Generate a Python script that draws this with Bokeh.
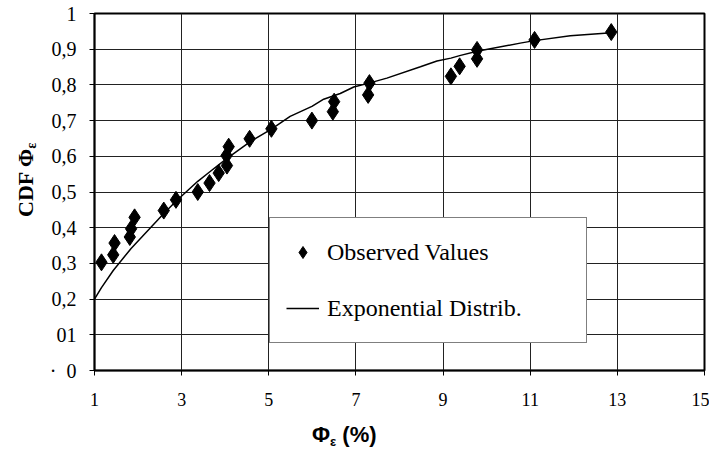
from bokeh.plotting import figure
from bokeh.models import Legend, LegendItem, FixedTicker, Range1d, Div
from bokeh.layouts import row, column
from bokeh.embed import file_html
from bokeh.resources import INLINE

# Observed values (Phi_eps %, CDF)
obs_x = [1.16, 1.43, 1.46, 1.81, 1.84, 1.92, 2.59, 2.87, 3.37, 3.64, 3.85, 4.04, 4.03,
         4.08, 4.56, 5.06, 5.99, 6.47, 6.50, 7.28, 7.31, 9.18, 9.38, 9.78, 9.78, 11.1, 12.86]
obs_y = [0.303, 0.324, 0.357, 0.374, 0.397, 0.429, 0.448, 0.478, 0.500, 0.525, 0.553, 0.574, 0.602,
         0.627, 0.649, 0.677, 0.700, 0.725, 0.753, 0.772, 0.805, 0.824, 0.852, 0.873, 0.898, 0.926, 0.948]

# Fitted exponential distribution
fit_x = [1.0, 1.16, 1.43, 1.84, 2.59, 2.87, 3.37, 3.64, 3.85, 4.05, 4.56, 5.06, 5.49,
         5.99, 6.26, 6.64, 6.95, 7.30, 7.71, 8.48, 8.86, 9.18, 9.38, 9.78, 10.77, 11.1, 11.92, 12.87]
fit_y = [0.200, 0.232, 0.280, 0.342, 0.440, 0.474, 0.530, 0.556, 0.576, 0.595, 0.640, 0.676, 0.712,
         0.740, 0.760, 0.776, 0.794, 0.805, 0.819, 0.851, 0.867, 0.875, 0.882, 0.894, 0.917, 0.924, 0.938, 0.946]

x_ticks = [1, 3, 5, 7, 9, 11, 13, 15]
y_ticks = [0, 0.1, 0.2, 0.3, 0.4, 0.5, 0.6, 0.7, 0.8, 0.9, 1]
y_tick_labels = ["\u00b7\u00a0\u00a00", "01", "0,2", "0,3", "0,4", "0,5", "0,6", "0,7", "0,8", "0,9", "1"]

x_title_main, x_title_sub, x_title_tail = "\u03a6", "\u03b5", " (%)"
y_title_main, y_title_sub = "CDF \u03a6", "\u03b5"

SERIF = "Liberation Serif"
SANS = "Liberation Sans"

W, H = 709, 451
YDIV_W = 44          # strip at the left holding the y title
P_H = 415            # figure height; the x title strip sits below it
L, R, T = 94, 5, 13  # frame edges in page pixels
FRAME_BOTTOM = 370
X0, X1, Y0, Y1 = 1, 15, 0, 1

p = figure(width=W - YDIV_W, height=P_H, x_range=Range1d(X0, X1), y_range=Range1d(Y0, Y1),
           output_backend="svg", toolbar_location=None,
           min_border_left=L - YDIV_W, min_border_right=R, min_border_top=T,
           min_border_bottom=P_H - FRAME_BOTTOM)
p.margin = 0
p.background_fill_color = "white"
p.border_fill_color = "white"
p.outline_line_color = "black"
p.outline_line_width = 2

p.xaxis.ticker = FixedTicker(ticks=x_ticks)
p.yaxis.ticker = FixedTicker(ticks=y_ticks)
p.xgrid.ticker = FixedTicker(ticks=x_ticks)
p.ygrid.ticker = FixedTicker(ticks=y_ticks)
p.yaxis.major_label_overrides = {t: lab for t, lab in zip(y_ticks, y_tick_labels)}
p.xaxis.major_label_overrides = {t: str(t) for t in x_ticks}

for ax in (p.xaxis, p.yaxis):
    ax.axis_line_color = "black"
    ax.axis_line_width = 1.5
    ax.major_tick_line_color = "black"
    ax.major_tick_out = 5
    ax.major_tick_in = 0
    ax.minor_tick_line_color = None
    ax.major_label_text_color = "black"
    ax.major_label_text_font = SERIF
p.xaxis.major_label_text_font_size = "18px"
p.yaxis.major_label_text_font_size = "20px"
p.xaxis.major_label_standoff = 17
p.yaxis.major_label_standoff = 13

for g in (p.xgrid, p.ygrid):
    g.grid_line_color = "#222222"
    g.grid_line_width = 1
    g.grid_line_alpha = 1

r_fit = p.line(fit_x, fit_y, line_color="black", line_width=1.5)
r_obs = p.scatter(obs_x, obs_y, marker="diamond", size=17, color="black")

legend = Legend(items=[LegendItem(label="Observed Values", renderers=[r_obs]),
                       LegendItem(label="Exponential Distrib.", renderers=[r_fit])],
                location=(175, 27))
legend.border_line_color = "black"
legend.border_line_width = 1.5
legend.background_fill_color = "white"
legend.background_fill_alpha = 1
legend.label_text_font = SERIF
legend.label_text_font_size = "24px"
legend.label_text_color = "black"
legend.glyph_width = 33
legend.glyph_height = 30
legend.label_height = 36
legend.label_width = 243
legend.label_standoff = 8
legend.padding = 16
legend.spacing = 20
legend.margin = 0
p.add_layout(legend)

# y axis title (rotated), drawn in a strip left of the figure
y_html = (
    '<div style="position:absolute; left:15px; top:217px; transform:rotate(-90deg); '
    'transform-origin:left top; white-space:nowrap; color:black; '
    f"font-family:'{SERIF}'; font-weight:bold; font-size:22px; line-height:22px;\">"
    f'{y_title_main}<span style="font-size:14px; position:relative; top:3px;">{y_title_sub}</span></div>'
)
ydiv = Div(text=y_html, width=YDIV_W, height=H, margin=0)

# x axis title, drawn in a strip below the figure
x_html = (
    '<div style="margin-left:268px; margin-top:9px; white-space:nowrap; color:black; '
    f"font-family:'{SANS}'; font-weight:bold; font-size:22px; line-height:22px;\">"
    f'{x_title_main}<span style="font-size:13px; position:relative; top:4px;">{x_title_sub}</span>'
    f'{x_title_tail}</div>'
)
xdiv = Div(text=x_html, width=W - YDIV_W, height=H - P_H, margin=0)

layout = row(ydiv, column(p, xdiv, spacing=0, margin=0), spacing=0, margin=0)

open("out.html", "w").write(file_html(layout, INLINE))
